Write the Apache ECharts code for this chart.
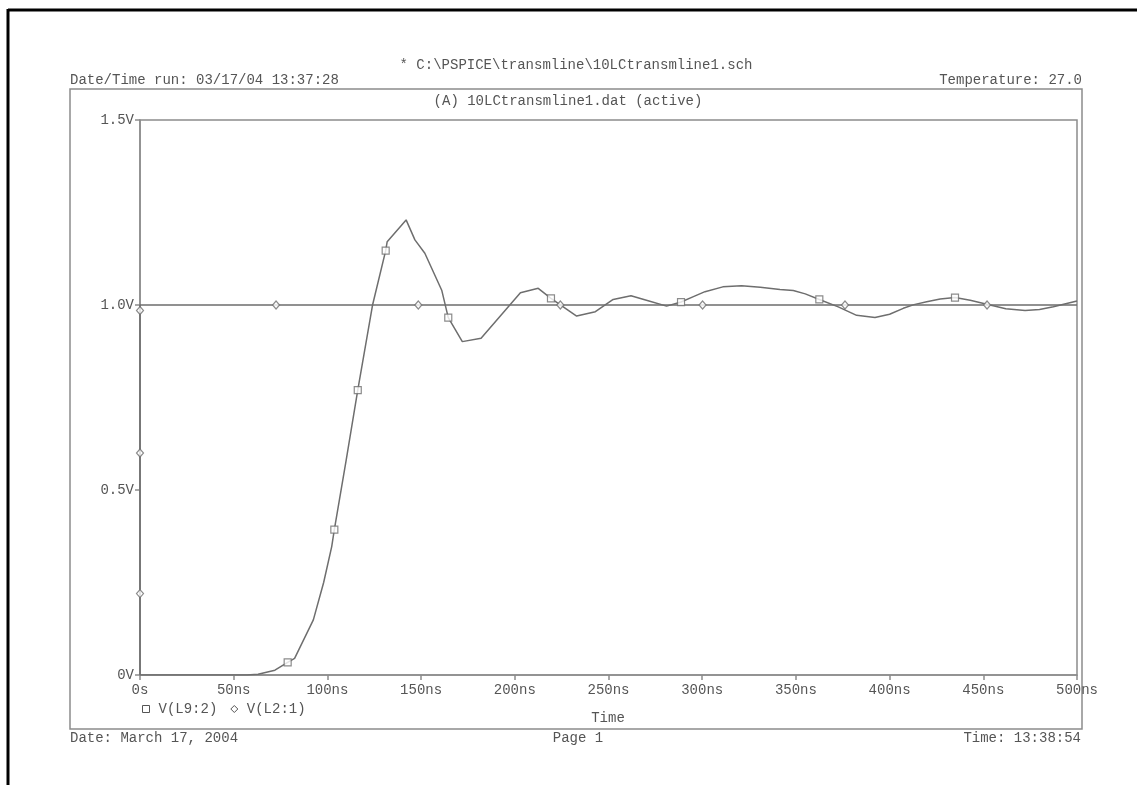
<!DOCTYPE html>
<html>
<head>
<meta charset="utf-8">
<script src="https://cdn.jsdelivr.net/npm/echarts@6/dist/echarts.min.js"></script>
<style>
  html, body { margin: 0; padding: 0; background: #fff; }
  #chart { width: 1137px; height: 785px; }
</style>
</head>
<body>
<div id="chart"></div>
<script>
// Probe output V(L9:2): time (ns) and voltage (V)
const l9Time = [0, 57, 63, 72, 78.8, 82.5, 92.5, 98, 102.3, 103.7, 110, 116.2, 122.7, 124.1, 131.1, 131.9,
  142, 146.7, 152, 161, 164.5, 172, 182, 203, 212.5, 219.3, 233, 243, 252.5, 262, 271.6, 281, 288.7, 295,
  301.5, 311, 321, 331, 341.5, 348.6, 355, 362.5, 372.6, 382.4, 392.2, 400, 407.3, 413, 419.8, 427, 434.9, 443,
  448, 453.6, 462, 472.3, 480, 487.4, 500];
const l9Volt = [0, 0, 0.002, 0.013, 0.034, 0.045, 0.149, 0.25, 0.347, 0.393, 0.58, 0.770, 0.959, 1.0, 1.147, 1.171,
  1.230, 1.176, 1.140, 1.040, 0.966, 0.901, 0.910, 1.033, 1.045, 1.018, 0.970, 0.982, 1.015, 1.025, 1.011, 0.997, 1.008, 1.022,
  1.036, 1.049, 1.052, 1.048, 1.042, 1.039, 1.030, 1.015, 0.995, 0.972, 0.966, 0.975, 0.991, 1.001, 1.009, 1.016, 1.020, 1.013,
  1.007, 1.000, 0.990, 0.985, 0.988, 0.995, 1.011];
// Marker positions on V(L9:2)
const l9MarkTime = [78.8, 103.7, 116.2, 131.1, 164.5, 219.3, 288.7, 362.5, 434.9];
const l9MarkVolt = [0.034, 0.393, 0.770, 1.147, 0.966, 1.018, 1.008, 1.015, 1.020];

// Source V(L2:1): step to 1 V at t = 0
const l2Time = [0, 0, 500];
const l2Volt = [0, 1, 1];
const l2MarkTime = [0, 0, 0, 72.6, 148.5, 224.3, 300.2, 376.2, 452];
const l2MarkVolt = [0.22, 0.60, 0.985, 1, 1, 1, 1, 1, 1];

const xTicks = ['0s', '50ns', '100ns', '150ns', '200ns', '250ns', '300ns', '350ns', '400ns', '450ns', '500ns'];
const yTicks = ['0V', '0.5V', '1.0V', '1.5V'];

const headerTitle = '* C:\\PSPICE\\transmline\\10LCtransmline1.sch';
const runStamp = 'Date/Time run: 03/17/04 13:37:28';
const tempText = 'Temperature: 27.0';
const sectionTitle = '(A) 10LCtransmline1.dat (active)';
const footDate = 'Date: March 17, 2004';
const footPage = 'Page 1';
const footTime = 'Time: 13:38:54';
const xName = 'Time';
const names = ['V(L9:2)', 'V(L2:1)'];

const FONT = '"Liberation Mono", "Courier New", monospace';
const TXT = '#555';
const LINE = '#6e6e6e';
const FRAME = '#8c8c8c';

const zip = (a, b) => a.map((v, i) => [v, b[i]]);
const txt = (x, y, s, align) => ({
  type: 'text', x: x, y: y,
  style: { text: s, font: '14px ' + FONT, fill: TXT, textAlign: align || 'left', textVerticalAlign: 'middle' },
  silent: true
});

const chart = echarts.init(document.getElementById('chart'), null, { renderer: 'canvas' });
chart.setOption({
  animation: false,
  backgroundColor: '#fff',
  grid: { left: 140, top: 120, width: 937, height: 555, show: true, borderColor: FRAME, borderWidth: 1.5 },
  xAxis: {
    type: 'value', min: 0, max: 500, interval: 50,
    axisLine: { show: true, lineStyle: { color: FRAME, width: 1.5 } },
    axisTick: { show: true, length: 5, inside: false, lineStyle: { color: FRAME, width: 1.5 } },
    axisLabel: { color: TXT, fontFamily: FONT, fontSize: 14, margin: 8,
      formatter: v => xTicks[Math.round(v / 50)] },
    splitLine: { show: false }
  },
  yAxis: {
    type: 'value', min: 0, max: 1.5, interval: 0.5,
    axisLine: { show: true, lineStyle: { color: FRAME, width: 1.5 } },
    axisTick: { show: true, length: 5, inside: false, lineStyle: { color: FRAME, width: 1.5 } },
    axisLabel: { color: TXT, fontFamily: FONT, fontSize: 14, margin: 6,
      formatter: v => yTicks[Math.round(v / 0.5)] },
    splitLine: { show: false }
  },
  legend: {
    left: 137, top: 697, itemGap: 13, itemWidth: 7, itemHeight: 7,
    textStyle: { color: TXT, fontFamily: FONT, fontSize: 14, padding: [0, 0, 0, 4] },
    data: [
      { name: names[0], icon: 'rect', itemStyle: { color: '#fff', borderColor: TXT, borderWidth: 1 } },
      { name: names[1], icon: 'diamond', itemStyle: { color: '#fff', borderColor: TXT, borderWidth: 1 } }
    ],
    selectedMode: false
  },
  series: [
    { name: names[1], type: 'line', data: zip(l2Time, l2Volt), showSymbol: false,
      lineStyle: { color: LINE, width: 1.5 }, itemStyle: { color: LINE } },
    { name: names[0], type: 'line', data: zip(l9Time, l9Volt), showSymbol: false,
      lineStyle: { color: LINE, width: 1.5 }, itemStyle: { color: LINE } },
    { name: names[0], type: 'scatter', data: zip(l9MarkTime, l9MarkVolt), symbol: 'rect', symbolSize: 7,
      itemStyle: { color: '#fff', borderColor: LINE, borderWidth: 1.2 }, z: 5 },
    { name: names[1], type: 'scatter', data: zip(l2MarkTime, l2MarkVolt), symbol: 'diamond', symbolSize: [7, 8],
      itemStyle: { color: '#fff', borderColor: LINE, borderWidth: 1.2 }, z: 5 }
  ],
  graphic: [
    // page edge
    { type: 'line', shape: { x1: 8, y1: 10, x2: 1137, y2: 10 }, style: { stroke: '#000', lineWidth: 3 }, silent: true },
    { type: 'line', shape: { x1: 8, y1: 9, x2: 8, y2: 785 }, style: { stroke: '#000', lineWidth: 3 }, silent: true },
    // outer plot frame
    { type: 'rect', shape: { x: 70, y: 89, width: 1012, height: 640 },
      style: { fill: 'none', stroke: FRAME, lineWidth: 1.5 }, silent: true },
    txt(576, 65, headerTitle, 'center'),
    txt(70, 80, runStamp, 'left'),
    txt(1082, 80, tempText, 'right'),
    txt(568, 101, sectionTitle, 'center'),
    txt(608, 718, xName, 'center'),
    txt(70, 738, footDate, 'left'),
    txt(578, 738, footPage, 'center'),
    txt(1081, 738, footTime, 'right')
  ]
});
</script>
</body>
</html>
